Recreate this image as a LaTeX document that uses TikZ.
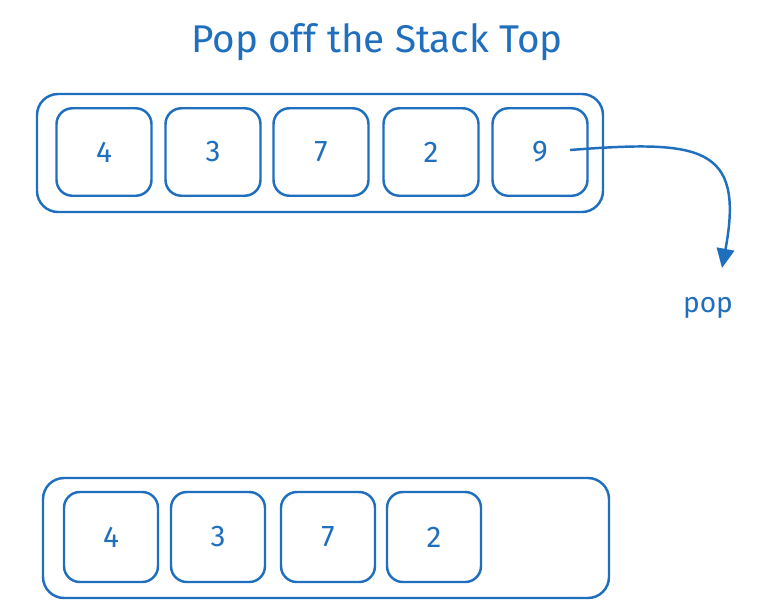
\documentclass[tikz,border=0pt]{standalone}
\usepackage{fontspec}
\setmainfont{Fira Sans}
\usetikzlibrary{arrows.meta}
\begin{document}
\begin{tikzpicture}[x=0.02cm,y=-0.02cm]
		
		\definecolor{stackblue}{RGB}{31,111,190}
		
		\useasboundingbox (0,0) rectangle (768,602);
		
		\tikzset{holder/.style = {draw=stackblue,line width=1.4pt,rounded corners=12pt}}
		\tikzset{cell/.style = {draw=stackblue,line width=1.4pt,rounded corners=9pt,minimum width=1.9cm,minimum height=1.75cm,text=stackblue,font=\fontsize{17}{20}\selectfont}}
		
		\node[text=stackblue,font=\fontsize{22}{26}\selectfont] (title) at (377,42) {Pop off the Stack Top};
		
		% stack before
		\draw[holder] (37,94) rectangle (603,212);
		\node[cell] (a1) at (104,152) {4};
		\node[cell] (a2) at (213,152) {3};
		\node[cell] (a3) at (321,152) {7};
		\node[cell] (a4) at (431,152) {2};
		\node[cell] (a5) at (540,152) {9};
		
		% stack after
		\draw[holder] (43,478) rectangle (609,598);
		\node[cell,minimum width=1.88cm,minimum height=1.8cm] (b1) at (111,537) {4};
		\node[cell,minimum width=1.88cm,minimum height=1.8cm] (b2) at (218,537) {3};
		\node[cell,minimum width=1.88cm,minimum height=1.8cm] (b3) at (328,537) {7};
		\node[cell,minimum width=1.88cm,minimum height=1.8cm] (b4) at (434,537) {2};
		
		\node[text=stackblue,font=\fontsize{16}{19}\selectfont] (pop) at (708,308) {pop};
		\coordinate (top) at (570,150);
		\coordinate (tip) at (722,268);
		\draw[stackblue,line width=1.4pt,-{Triangle[length=11pt,width=10pt]}] (top) .. controls (700,140) and (745,145) .. (tip);
		
		\end{tikzpicture}
\end{document}
